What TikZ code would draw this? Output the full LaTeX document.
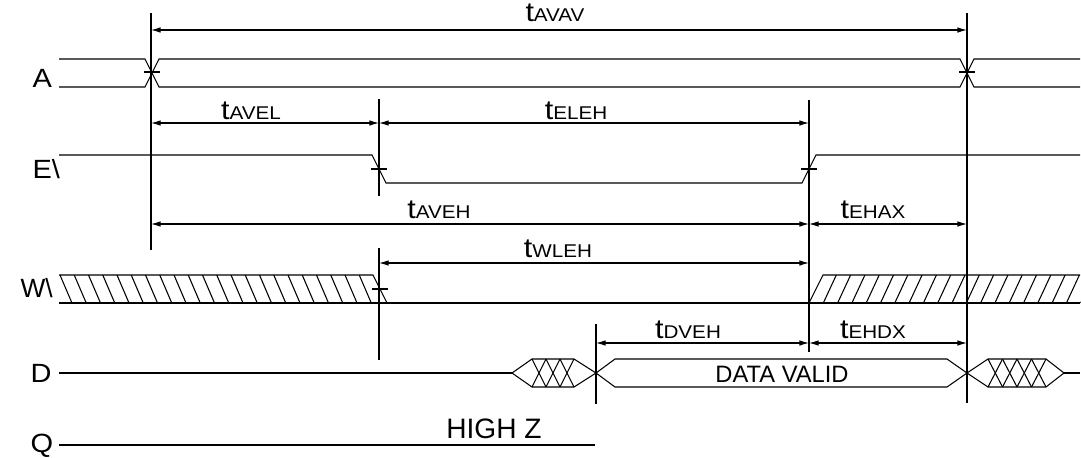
\documentclass[tikz,border=0pt]{standalone}
\usepackage{graphicx}
\usepackage{fontspec}
\setmainfont{Liberation Sans}
\usetikzlibrary{arrows.meta}
\newcommand{\tlab}[1]{\scalebox{1.12}[1]{{\fontsize{15.5}{15.5}\selectfont t}{\fontsize{10.5}{10.5}\selectfont #1}}}
\newcommand{\wide}[1]{\scalebox{1.1}[1]{#1}}

\begin{document}
\begin{tikzpicture}[x=0.02cm,y=-0.02cm,line width=0.6pt]
\tikzstyle{dim}=[{Latex[length=5.5pt,width=3.2pt]}-{Latex[length=5.5pt,width=3.2pt]}]
\tikzstyle{tlbl}=[anchor=base,inner sep=0pt]
\tikzstyle{sname}=[anchor=base west,inner sep=0pt,font=\fontsize{15}{15}\selectfont]
\tikzstyle{bus}=[line join=miter]
\useasboundingbox (0,0) rectangle (1081,457);

\foreach \n/\x/\ya/\yb in {ga/151/13/250, gb/379/99/196, gc/379/248/360, gd/809/100/352, ge/967/13/403, gf/596/324/404}{
	\coordinate (\n1) at (\x,\ya);
	\coordinate (\n2) at (\x,\yb);
	\draw (\n1) -- (\n2);
}

\foreach \xa/\xb/\y in {151/967/30, 151/379/123, 379/809/123, 151/809/224, 809/967/224, 379/809/263, 596/809/343, 809/967/343}{
	\coordinate (da) at (\xa,\y);
	\coordinate (db) at (\xb,\y);
	\draw[dim] (da) -- (db);
}

\node[tlbl] (lavav) at (555,21) {\tlab{AVAV}};
\node[tlbl] (lavel) at (251,119) {\tlab{AVEL}};
\node[tlbl] (leleh) at (576,119) {\tlab{ELEH}};
\node[tlbl] (laveh) at (439,218) {\tlab{AVEH}};
\node[tlbl] (lehax) at (873,218) {\tlab{EHAX}};
\node[tlbl] (lwleh) at (558,257) {\tlab{WLEH}};
\node[tlbl] (ldveh) at (688,338) {\tlab{DVEH}};
\node[tlbl] (lehdx) at (873,338) {\tlab{EHDX}};

\node[sname] (na) at (32,87) {\wide{A}};
\node[sname] (ne) at (32,178) {\wide{E\textbackslash}};
\node[sname] (nw) at (20,297) {W\textbackslash};
\node[sname] (nd) at (30,382) {\wide{D}};
\node[sname] (nq) at (30,452) {\wide{Q}};

\draw[bus] (59,59) -- (145,59) -- (159,87) -- (960,87) -- (974,59) -- (1080,59);
\draw[bus] (59,87) -- (145,87) -- (159,59) -- (960,59) -- (974,87) -- (1080,87);
\draw (144,72) -- (160,72);
\draw (959,72) -- (975,72);

\draw[bus] (59,155) -- (372,155) -- (386,183) -- (802,183) -- (816,155) -- (1080,155);
\draw (371,169) -- (387,169);
\draw (801,169) -- (817,169);

\draw (59,303) -- (1080,303);
\draw[bus] (59,275) -- (373,275) -- (387,303);
\draw[bus] (809,303) -- (823,275) -- (1080,275);
\draw (372,289) -- (388,289);
\foreach \i in {0,...,21}{
	\draw (60+\i*14.25,275) -- (72+\i*14.25,303);
}
\begin{scope}
\clip (809,275) rectangle (1081,303);
\foreach \i in {1,...,19}{
	\draw (809+\i*14.3,303) -- (822+\i*14.3,275);
}
\end{scope}

\draw (59,373) -- (512,373);
\draw[bus] (512,373) -- (532,359) -- (574,359) -- (596,373) -- (574,387) -- (532,387) -- cycle;
\foreach \x in {532,546,560}{
	\draw (\x,359) -- (\x+14,387);
	\draw (\x+14,359) -- (\x,387);
}
\draw[bus] (596,373) -- (615,359) -- (947,359) -- (967,373) -- (947,387) -- (615,387) -- cycle;
\node[anchor=base,inner sep=0pt,font=\fontsize{13.5}{13.5}\selectfont] (dv) at (782,382) {DATA VALID};
\draw[bus] (967,373) -- (988,359) -- (1046,359) -- (1064,373) -- (1046,387) -- (988,387) -- cycle;
\foreach \x in {988,1002.5,1017,1031.5}{
	\draw (\x,359) -- (\x+14.5,387);
	\draw (\x+14.5,359) -- (\x,387);
}
\draw (1064,373) -- (1080,373);

\draw (59,445) -- (595,445);
\node[anchor=base,inner sep=0pt,font=\fontsize{16}{16}\selectfont] (hz) at (494,438) {HIGH Z};
\end{tikzpicture}
\end{document}
